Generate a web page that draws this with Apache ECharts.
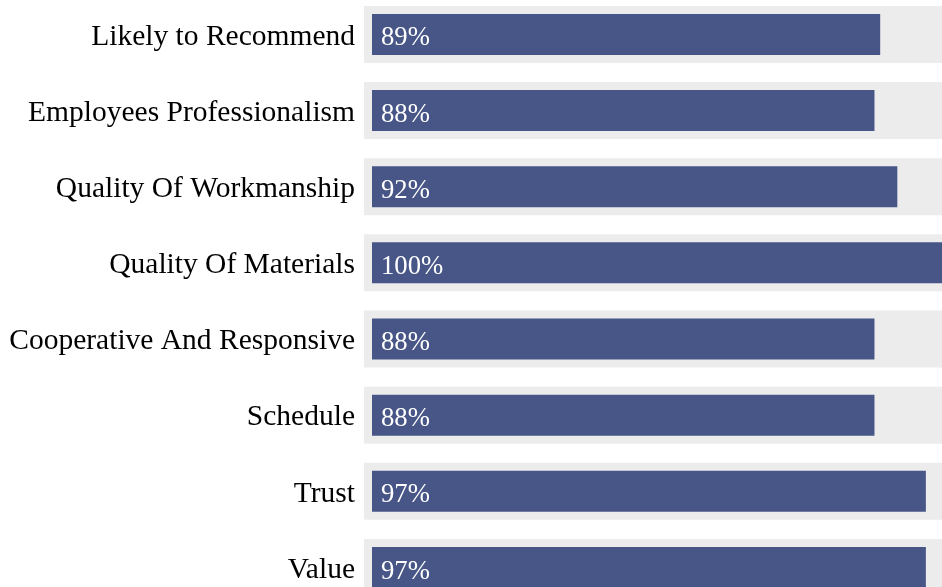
<!DOCTYPE html>
<html>
<head>
<meta charset="utf-8">
<script src="https://cdn.jsdelivr.net/npm/echarts@6/dist/echarts.min.js"></script>
<style>
  html, body { margin: 0; padding: 0; background: #ffffff; overflow: hidden; }
  #chart { width: 942px; height: 587px; }
</style>
</head>
<body>
<div id="chart"></div>
<script>
// Survey satisfaction scores, percent
const categories = [
  'Likely to Recommend',
  'Employees Professionalism',
  'Quality Of Workmanship',
  'Quality Of Materials',
  'Cooperative And Responsive',
  'Schedule',
  'Trust',
  'Value'
];
const scores = [89, 88, 92, 100, 88, 88, 97, 97];
const scaleMax = 100;

const serif = '"Liberation Serif", "Times New Roman", Times, serif';
const chart = echarts.init(document.getElementById('chart'), null, { renderer: 'canvas' });

// full-length grey track behind each score bar
const trackValues = categories.map(() => scaleMax);

// the plot runs slightly past the top and bottom edges of the canvas
const gridBase = { top: -3.7, height: 609.3, containLabel: false, outerBoundsMode: 'none' };

chart.setOption({
  animation: false,
  grid: [
    Object.assign({ left: 372, width: 571 }, gridBase),
    Object.assign({ left: 364, width: 600 }, gridBase)
  ],
  xAxis: [
    { gridIndex: 0, type: 'value', min: 0, max: scaleMax, show: false },
    { gridIndex: 1, type: 'value', min: 0, max: scaleMax, show: false }
  ],
  yAxis: [
    {
      gridIndex: 0, type: 'category', data: categories, inverse: true,
      axisLine: { show: false }, axisTick: { show: false }, splitLine: { show: false },
      axisLabel: {
        color: '#000000', fontFamily: serif, fontSize: 29.5, margin: 17,
        formatter: (v) => '{c|' + v + '}',
        rich: { c: { fontFamily: serif, fontSize: 29.5, color: '#000000', padding: [5, 0, 0, 0] } }
      }
    },
    { gridIndex: 1, type: 'category', data: categories, inverse: true, show: false }
  ],
  series: [
    {
      type: 'bar', xAxisIndex: 1, yAxisIndex: 1, data: trackValues,
      barWidth: 57, itemStyle: { color: '#ececec' }, silent: true, z: 1
    },
    {
      type: 'bar', xAxisIndex: 0, yAxisIndex: 0, data: scores,
      barWidth: 41, itemStyle: { color: '#475686' }, z: 2,
      label: {
        show: true, position: 'insideLeft', distance: 9, offset: [0, 4],
        color: '#ffffff', fontFamily: serif, fontSize: 26.7,
        formatter: (p) => p.value + '%'
      }
    }
  ]
});
</script>
</body>
</html>
